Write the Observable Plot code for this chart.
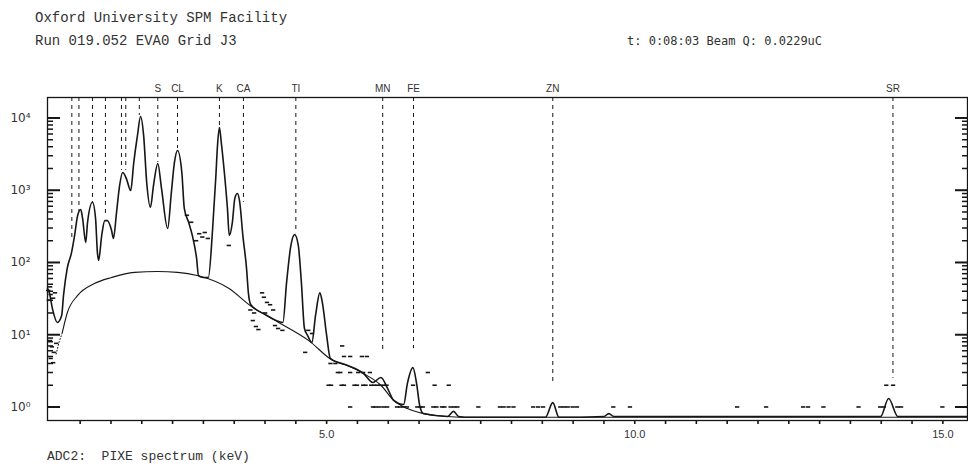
<!DOCTYPE html>
<html><head><meta charset="utf-8">
<script src="https://cdn.jsdelivr.net/npm/d3@7"></script>
<script src="https://cdn.jsdelivr.net/npm/@observablehq/plot@0.6"></script>
<style>
html,body{margin:0;padding:0;background:#fff;}
#wrap{width:968px;height:468px;position:relative;overflow:hidden;background:#fff;}
.hd{position:absolute;font-family:"Liberation Mono",monospace;color:#333;white-space:pre;line-height:16px;}
#chart svg{display:block;}
</style></head><body>
<div id="wrap">
  <div style="position:relative;height:60px">
    <div class="hd" style="left:35px;top:10px;font-size:14px">Oxford University SPM Facility</div>
    <div class="hd" style="left:35px;top:33px;font-size:14px">Run 019.052 EVA0 Grid J3</div>
    <div class="hd" style="left:627px;top:33px;font-size:12px;font-family:'DejaVu Sans Mono',monospace">t: 0:08:03 Beam Q: 0.0229uC</div>
  </div>
  <div id="chart"></div>
  <div class="hd" style="left:47px;top:449px;font-size:13px">ADC2:  PIXE spectrum (keV)</div>
</div>
<script>
// ---- data (energy keV, counts) ----
const fitCurve = [
  [0.47,44],[0.50,38],[0.55,23],[0.63,14.8],[0.70,18.5],[0.73,35],[0.79,83],[0.86,137],[0.91,237],
  [0.96,450],[1.01,540],[1.04,405],[1.09,189],[1.12,360],[1.20,680],[1.25,405],[1.28,137],[1.30,107],
  [1.35,237],[1.40,380],[1.44,380],[1.51,277],[1.54,215],[1.59,490],[1.64,1160],[1.69,1760],[1.75,1450],
  [1.82,990],[1.87,2420],[1.93,5730],[1.98,10500],[2.03,5730],[2.08,1280],[2.14,580],[2.19,1160],
  [2.26,2340],[2.32,1060],[2.42,295],[2.48,930],[2.53,2420],[2.58,3550],[2.65,1760],[2.69,560],
  [2.76,360],[2.82,237],[2.89,113],[2.92,66],[3.00,62],[3.08,62],[3.15,295],[3.20,1450],[3.23,4300],
  [3.26,7390],[3.29,4600],[3.34,1760],[3.39,560],[3.42,237],[3.47,360],[3.51,770],[3.55,900],[3.59,680],
  [3.64,237],[3.70,83],[3.73,38],[3.77,26],[4.01,19],[4.29,14.8],[4.35,53],[4.42,172],[4.48,244],
  [4.54,172],[4.59,53],[4.64,12.2],[4.69,9.8],[4.76,7.8],[4.82,18.5],[4.89,38],[4.93,28],[5.00,9.8],
  [5.06,4.7],[5.34,3.75],[5.60,2.9],[5.75,2.18],[5.88,2.56],[5.99,1.8],[6.09,1.23],[6.25,1.08],
  [6.31,2.1],[6.40,3.5],[6.46,2.1],[6.51,1.05],[6.57,0.81],[6.96,0.74],[7.06,0.87],[7.14,0.74],
  [7.34,0.72],[8.55,0.72],[8.67,1.15],[8.77,0.72],[9.50,0.74],[9.58,0.81],[9.66,0.74],[13.99,0.74],
  [14.12,1.31],[14.27,0.74],[15.40,0.74]
];
const backgroundLow = [[0.61,5.4],[0.66,8.0],[0.71,10.7]];
const background = [
  [0.71,10.7],[0.79,20],[0.96,35],[1.23,51],[1.51,62],[1.88,73],[2.26,75],[2.58,73],[2.90,66],
  [3.41,44],[3.77,25],[4.22,14.8],[4.71,8.3],[5.10,4.4],[5.34,3.75],[5.60,2.9],[5.88,2.0],[6.09,1.23],
  [6.31,0.95],[6.57,0.81],[6.96,0.74],[7.34,0.72],[15.40,0.72]
];
const dataPoints = [
  [0.49,41],[0.52,46],[0.53,36],[0.57,32],[0.60,38],[0.50,30],[0.52,8.3],[0.55,6.8],[0.58,5.7],
  [0.53,4.7],[0.57,4.1],[0.62,7.6],
  [2.74,450],[2.81,360],[2.89,200],[2.94,250],[2.99,225],[3.03,260],[3.08,215],[3.42,172],
  [3.77,22],[3.83,20],[3.81,15.7],[3.86,13],[3.90,11.8],[3.96,38],[3.99,33],[4.04,28],[4.09,26],
  [4.01,20],[4.14,22],[4.17,13.4],[4.22,12.2],[4.29,11.5],[4.71,11.5],[4.77,10.4],[4.66,5.7],
  [5.26,7],[5.29,5],[5.39,5],[5.58,5],[5.66,5],[5.07,4],[5.15,4],
  [5.19,3],[5.23,3],[5.39,3],[5.52,3],[5.60,3],[5.71,3],[6.65,3],
  [5.04,2],[5.08,2],[5.25,2],[5.29,2],[5.46,2],[5.50,2],[5.60,2],[5.64,2],[5.73,2],[5.78,2],[5.83,2],
  [5.88,2],[5.94,2],[5.98,2],[6.41,2],[6.76,2],[6.99,2],[14.09,2],[14.20,2],
  [5.39,1],[5.76,1],[5.80,1],[5.86,1],[5.93,1],[5.99,1],[6.15,1],[6.20,1],[6.26,1],[6.31,1],[6.48,1],
  [6.53,1],[6.57,1],[6.74,1],[6.79,1],[6.88,1],[6.92,1],[7.02,1],[7.08,1],[7.13,1],[7.47,1],[7.82,1],
  [7.88,1],[7.96,1],[8.04,1],[8.36,1],[8.44,1],[8.52,1],[8.80,1],[8.86,1],[8.92,1],[9.00,1],[9.07,1],
  [9.66,1],[9.93,1],[11.67,1],[12.14,1],[12.74,1],[12.82,1],[13.07,1],[13.64,1],[13.99,1],[14.05,1],
  [14.27,1],[14.33,1],[15.00,1],[15.32,1]
];
const markerEnergy = [0.865,0.98,1.20,1.41,1.67,1.74,1.96,2.26,2.58,3.26,3.65,4.50,5.91,6.41,8.67,14.19];
const markerEnd    = [215,510,680,420,1880,1880,10840,2420,3780,7390,680,250,5.5,6.4,2.0,2.5];
const markerLabel  = ["","","","","","","","S","CL","K","CA","TI","MN","FE","ZN","SR"];
const xTicks = [1,1.5,2,2.5,3,3.5,4,4.5,5,5.5,6,6.5,7,7.5,8,8.5,9,9.5,10,10.5,11,11.5,12,12.5,13,13.5,14,14.5,15];
const xLabelled = [5,10,15];
const yMajor = [1,10,100,1000,10000];
const yMinor = [2,3,4,5,6,7,8,9,20,30,40,50,60,70,80,90,200,300,400,500,600,700,800,900,
                2000,3000,4000,5000,6000,7000,8000,9000];
const supDigits = ["\u2070","\u00B9","\u00B2","\u00B3","\u2074"];

const xDomain = [0.47, 15.4];
const yDomain = [0.65, 19200];
const markers = markerEnergy.map((e, i) => ({e, end: markerEnd[i], label: markerLabel[i]}));
const halfDash = 0.035;

const ink = "#161616";
const chart = Plot.plot({
  width: 968, height: 388,
  marginLeft: 47, marginRight: 1, marginTop: 37, marginBottom: 28,
  x: {domain: xDomain},
  y: {type: "log", domain: yDomain},
  style: {background: "#fff", color: ink, fontFamily: "'Liberation Sans', sans-serif", fontSize: "11px"},
  marks: [
    Plot.ruleX(markers, {x: "e", y1: yDomain[1], y2: "end", stroke: ink, strokeWidth: 1, strokeDasharray: "4,4"}),
    Plot.text(markers.filter(d => d.label), {x: "e", y: yDomain[1], text: "label", dy: -9, fontSize: 10, fill: "#333"}),
    Plot.line(backgroundLow, {x: d => d[0], y: d => d[1], stroke: ink, strokeWidth: 1, strokeDasharray: "1,2"}),
    Plot.line(background, {x: d => d[0], y: d => d[1], stroke: ink, strokeWidth: 1.1, curve: "monotone-x"}),
    Plot.line(fitCurve, {x: d => d[0], y: d => d[1], stroke: ink, strokeWidth: 1.6, curve: "monotone-x"}),
    Plot.ruleY(dataPoints, {y: d => d[1], x1: d => d[0] - halfDash, x2: d => d[0] + halfDash, stroke: ink, strokeWidth: 1.6}),
    Plot.frame({stroke: ink, strokeWidth: 1.3}),
    // inward ticks on the left and right edges (negative tick size points into the frame)
    Plot.axisY({anchor: "left", ticks: yMajor, tickSize: -13, stroke: ink, strokeWidth: 2, fill: "none", label: null}),
    Plot.axisY({anchor: "left", ticks: yMinor, tickSize: -6, stroke: ink, strokeWidth: 1.5, fill: "none", label: null}),
    Plot.axisY({anchor: "right", ticks: yMajor, tickSize: -13, stroke: ink, strokeWidth: 2, fill: "none", label: null}),
    Plot.axisY({anchor: "right", ticks: yMinor, tickSize: -6, stroke: ink, strokeWidth: 1.5, fill: "none", label: null}),
    Plot.axisX({ticks: xTicks, tickSize: 4, tickPadding: 6, label: null, fill: "#333", fontSize: 11,
      stroke: ink, strokeWidth: 1.6, tickFormat: d => xLabelled.includes(d) ? d.toFixed(1) : ""}),
    Plot.axisY({anchor: "left", ticks: yMajor, tickSize: 0, tickPadding: 17, label: null, fill: "#333",
      fontSize: 12, fontFamily: "'DejaVu Sans', sans-serif",
      tickFormat: d => "10" + supDigits[Math.round(Math.log10(d))]})
  ]
});
document.getElementById("chart").appendChild(chart);
</script>
</body></html>
